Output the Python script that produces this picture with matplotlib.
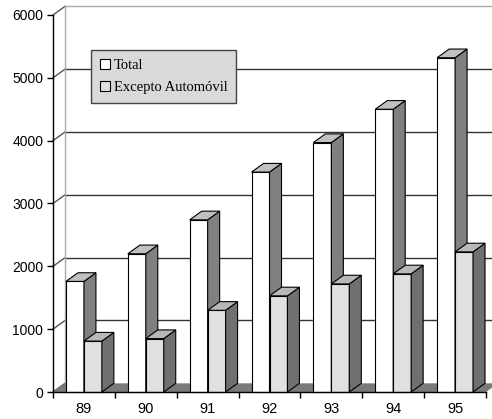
import numpy as np
import matplotlib.pyplot as plt
from matplotlib.patches import Polygon, Patch

years = ['89', '90', '91', '92', '93', '94', '95']
total = [1760, 2200, 2740, 3500, 3970, 4500, 5320]
excepto_auto = [810, 850, 1300, 1530, 1720, 1880, 2230]

W, H = 492, 419
fig = plt.figure(figsize=(W / 100, H / 100), dpi=100)
ax = fig.add_axes([53 / W, 27 / H, 433 / W, 377 / H])
ax.set_xlim(0, len(years))
ax.set_ylim(0, 6000)

# fake 3d depth, in data units
dx = 0.194
dy = 138
bw = 0.29
x_total = np.arange(len(years)) + 0.21
x_exc = x_total + bw


def add_poly(pts, fc, z):
    ax.add_patch(Polygon(pts, closed=True, facecolor=fc, edgecolor='black',
                         lw=0.8, joinstyle='miter', zorder=z, clip_on=False))


def bars3d(xs, vals, front, side, top, z):
    ax.bar(xs, vals, bw, align='edge', color=front, edgecolor='black',
           lw=0.8, zorder=z, clip_on=False)
    for xl, h in zip(xs, vals):
        xr = xl + bw
        add_poly([(xr, 0), (xr + dx, dy), (xr + dx, h + dy), (xr, h)], side, z + 1)
        add_poly([(xl, h), (xr, h), (xr + dx, h + dy), (xl + dx, h + dy)], top, z + 2)


# back wall, side wall and floor
n = len(years)
for v in range(1000, 6000, 1000):
    ax.plot([dx, n + dx + 0.3], [v + dy, v + dy], color='#333333', lw=1,
            zorder=1, clip_on=False)
for v in range(0, 7000, 1000):
    ax.plot([0, dx], [v, v + dy], color='#555555', lw=1, zorder=1, clip_on=False)
ax.plot([dx, n + dx + 0.3], [6000 + dy, 6000 + dy], color='#aaaaaa', lw=1,
        zorder=1, clip_on=False)
ax.plot([dx, dx], [dy, 6000 + dy], color='#aaaaaa', lw=1, zorder=1, clip_on=False)
ax.add_patch(Polygon([(0, 0), (n, 0), (n + dx, dy), (dx, dy)], closed=True,
                     facecolor='#7a7a7a', edgecolor='none', zorder=2, clip_on=False))

bars3d(x_total, total, 'white', '#808080', '#c0c0c0', 3)
bars3d(x_exc, excepto_auto, '#e0e0e0', '#707070', '#b8b8b8', 6)

for s in ['top', 'right']:
    ax.spines[s].set_visible(False)
for s in ['left', 'bottom']:
    ax.spines[s].set_linewidth(1)
    ax.spines[s].set_zorder(10)

ax.set_yticks(range(0, 7000, 1000))
ax.tick_params(axis='y', length=4, width=1, pad=3, labelsize=10)
ax.set_xticks(np.arange(n + 1))
ax.set_xticklabels([])
ax.set_xticks(np.arange(n) + 0.5, years, minor=True)
ax.tick_params(axis='x', which='major', length=4, width=1)
ax.tick_params(axis='x', which='minor', length=0, pad=7, labelsize=10.5)
for lab in ax.get_xticklabels(minor=True) + ax.get_yticklabels():
    lab.set_family('Liberation Sans')

handles = [Patch(facecolor='white', edgecolor='black', lw=0.8),
           Patch(facecolor='#e0e0e0', edgecolor='black', lw=0.8)]
leg = ax.legend(handles, ['Total', 'Excepto Automóvil'], loc='upper left',
                bbox_to_anchor=(0.0878, 0.907), borderaxespad=0,
                prop={'family': 'Liberation Serif', 'size': 10.5},
                handlelength=0.7, handleheight=0.7, handletextpad=0.25,
                labelspacing=0.6, borderpad=0.6, fancybox=False,
                framealpha=1, facecolor='#d9d9d9', edgecolor='#444444')
leg.set_zorder(20)
leg.get_frame().set_linewidth(1)

fig.savefig('out.png', dpi=100)
